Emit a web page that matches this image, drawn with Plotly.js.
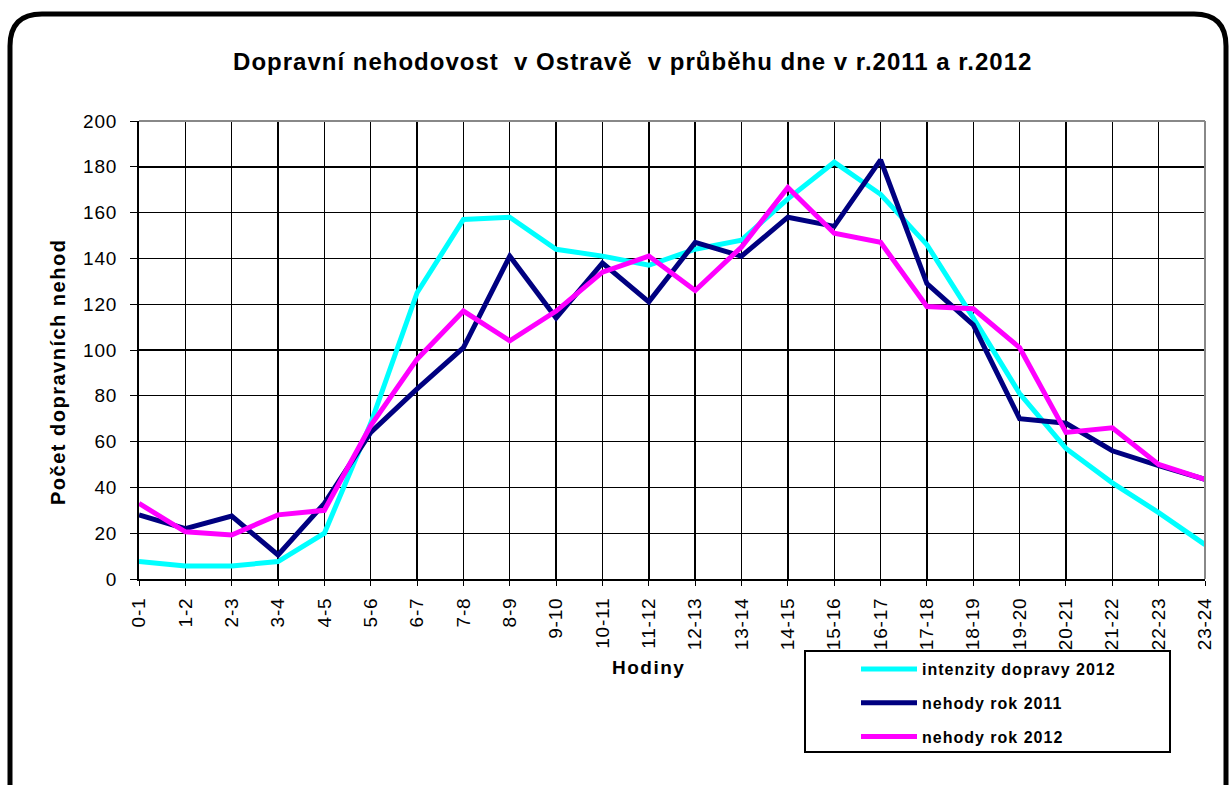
<!DOCTYPE html>
<html>
<head>
<meta charset="utf-8">
<script src="https://cdn.plot.ly/plotly-3.0.1.min.js"></script>
<style>
html,body{margin:0;padding:0;background:#fff;}
#chart{width:1231px;height:785px;}
.gtitle{letter-spacing:1px;}
.annotation-text{letter-spacing:1.5px;}
.ytick text,.xtick text{letter-spacing:0.8px;}
.legendtext{letter-spacing:1px;}
</style>
</head>
<body>
<div id="chart"></div>
<script>
const hours = ["0-1","1-2","2-3","3-4","4-5","5-6","6-7","7-8","8-9","9-10","10-11","11-12","12-13","13-14","14-15","15-16","16-17","17-18","18-19","19-20","20-21","21-22","22-23","23-24"];
const intenzity2012 = [7.6,5.7,5.7,7.6,20,68,125,157,158,144,141,137,144,148,166,182,168,146,114,81,57,42,29,15];
const nehody2011 = [28,22,27.5,10.5,33,64,83,101,141,114,138,121,147,141,158,154,183,129,111,70,68,56,49.5,43.5];
const nehody2012 = [33,20.6,19.2,28,30,67,96,117,104,117,134,141,126,145,171,151,147,119,118,101,64,66,50,43.5];
const names = ["intenzity dopravy 2012","nehody rok 2011","nehody rok 2012"];
const titleText = "Dopravní nehodovost \u00a0v Ostravě \u00a0v průběhu dne v r.2011 a r.2012";
const xTitle = "Hodiny";
const yTitle = "Počet dopravních nehod";

const L = 139, R = 1205, T = 121, B = 579;
const W = 1231, H = 785;
const px = x => (x - L) / (R - L);
const py = y => (B - y) / (B - T);

const font = "Arial, 'Liberation Sans', sans-serif";
function tr(y, name, color, g) {
  return {x: hours, y: y, name: name, type: 'scatter', mode: 'lines',
    line: {color: color, width: 5}, legendgroup: g, hoverinfo: 'skip'};
}
const data = [
  tr(intenzity2012, names[0], '#00FFFF', 'a'),
  tr(nehody2011, names[1], '#000080', 'b'),
  tr(nehody2012, names[2], '#FF00FF', 'c')
];

const r = 32;
const bx0 = 10, by0 = 14, bx1 = 1226, byEnd = 800;
const border = `M ${px(bx0)} ${py(byEnd)} L ${px(bx0)} ${py(by0 + r)} Q ${px(bx0)} ${py(by0)} ${px(bx0 + r)} ${py(by0)} L ${px(bx1 - r)} ${py(by0)} Q ${px(bx1)} ${py(by0)} ${px(bx1)} ${py(by0 + r)} L ${px(bx1)} ${py(byEnd)}`;

const layout = {
  width: W, height: H,
  margin: {l: L, r: W - R, t: T, b: H - B},
  paper_bgcolor: '#fff', plot_bgcolor: '#fff',
  font: {family: font, color: '#000'},
  title: {text: '<b>' + titleText + '</b>',
    font: {size: 24, family: font, color: '#000'}, x: 0.514, xanchor: 'center', y: 0.921, yanchor: 'middle'},
  xaxis: {type: 'category', range: [0, 23], tickangle: -90,
    tickfont: {size: 19, family: font}, showgrid: true, gridcolor: '#000', gridwidth: 1.4,
    showline: true, linecolor: '#000', linewidth: 2, ticks: 'outside', ticklen: 5, tickcolor: '#000',
    ticklabelstandoff: 4, zeroline: false, fixedrange: true},
  yaxis: {range: [0, 200], dtick: 20, tickfont: {size: 19, family: font},
    showgrid: true, gridcolor: '#000', gridwidth: 1.4,
    showline: true, linecolor: '#000', linewidth: 2, ticks: 'outside', ticklen: 7, tickcolor: '#000',
    ticklabelstandoff: 9, zeroline: false, fixedrange: true},
  annotations: [
    {text: '<b>' + xTitle + '</b>', xref: 'paper', yref: 'paper', x: px(648), y: py(667),
      xanchor: 'center', yanchor: 'middle', showarrow: false, font: {size: 19, family: font}},
    {text: '<b>' + yTitle + '</b>', xref: 'paper', yref: 'paper', x: px(58), y: py(372),
      xanchor: 'center', yanchor: 'middle', textangle: -90, showarrow: false, font: {size: 20, family: font}}
  ],
  showlegend: true,
  legend: {x: px(856), y: py(652), xanchor: 'left', yanchor: 'top',
    bgcolor: 'rgba(0,0,0,0)', borderwidth: 0, traceorder: 'grouped', tracegroupgap: 10,
    itemwidth: 56, font: {size: 16, family: font, color: '#000', weight: 'bold'}},
  shapes: [
    {type: 'line', xref: 'paper', yref: 'paper', x0: 0, x1: 1, y0: 1, y1: 1, line: {color: '#888', width: 2}},
    {type: 'line', xref: 'paper', yref: 'paper', x0: 1, x1: 1, y0: 0, y1: 1, line: {color: '#888', width: 2}},
    {type: 'rect', xref: 'paper', yref: 'paper', x0: px(805), x1: px(1170), y0: py(651), y1: py(752),
      line: {color: '#000', width: 2}, fillcolor: 'rgba(0,0,0,0)'},
    {type: 'path', xref: 'paper', yref: 'paper', path: border, line: {color: '#000', width: 5}}
  ]
};
Plotly.newPlot('chart', data, layout, {displayModeBar: false, staticPlot: true});
</script>
</body>
</html>
